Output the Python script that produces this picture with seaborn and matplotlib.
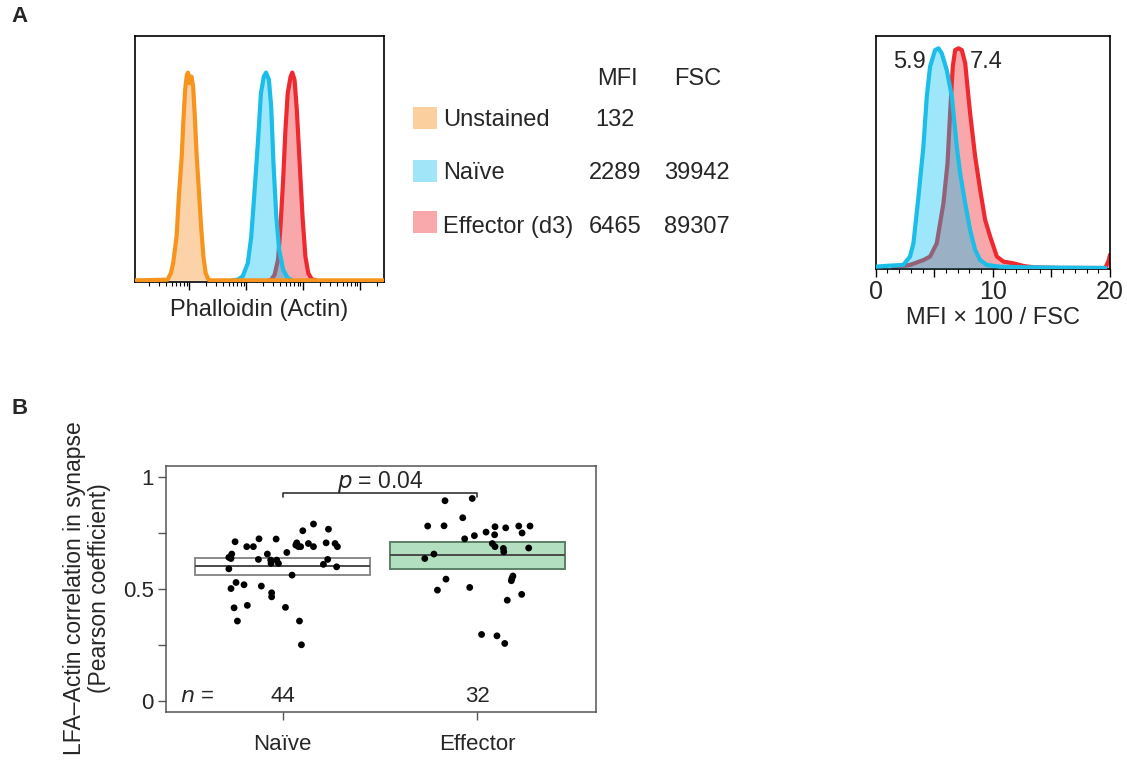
import numpy as np
import pandas as pd
import seaborn as sns
import matplotlib.pyplot as plt
from matplotlib.patches import Rectangle
from matplotlib.ticker import LogLocator, NullFormatter, MultipleLocator

sns.set_style("white")
plt.rcParams["font.family"] = ["Liberation Sans", "DejaVu Sans"]

# Panel A left: phalloidin histograms (log10 intensity, counts normalised to peak)
unst_log = [1.05, 1.62, 1.68, 1.72, 1.78, 1.82, 1.87, 1.90, 1.93, 1.96, 1.98, 2.01,
            2.04, 2.07, 2.10, 2.13, 2.17, 2.21, 2.25, 2.29, 2.34, 2.38, 5.42]
unst_cnt = [0, 0.003, 0.035, 0.083, 0.212, 0.404, 0.596, 0.772, 0.917, 0.989, 1.0, 0.949,
            0.981, 0.933, 0.788, 0.612, 0.436, 0.26, 0.115, 0.035, 0.003, 0, 0]
naive_log = [2.75, 2.85, 2.94, 3.03, 3.09, 3.15, 3.21, 3.26, 3.31, 3.35, 3.40, 3.44,
             3.48, 3.53, 3.58, 3.65, 3.73, 3.82]
naive_cnt = [0, 0.003, 0.019, 0.083, 0.21, 0.436, 0.676, 0.9, 0.98, 1.0, 0.965, 0.837,
             0.564, 0.308, 0.147, 0.051, 0.011, 0]
eff_log = [3.40, 3.44, 3.50, 3.56, 3.60, 3.65, 3.69, 3.73, 3.78, 3.81, 3.85, 3.89,
           3.94, 3.99, 4.04, 4.09, 4.15, 4.23]
eff_cnt = [0, 0.003, 0.027, 0.099, 0.244, 0.484, 0.724, 0.9, 0.98, 1.0, 0.965, 0.82,
           0.564, 0.308, 0.115, 0.035, 0.006, 0]

# legend table
table_labels = ["Unstained", "Naïve", "Effector (d3)"]
table_mfi = ["132", "2289", "6465"]
table_fsc = ["", "39942", "89307"]

# Panel A right: MFI x 100 / FSC histograms
ratio_naive_x = [0, 1.0, 2.36, 2.93, 3.22, 3.65, 4.07, 4.36, 4.64, 5.07, 5.36, 5.64,
                 6.07, 6.50, 6.92, 7.21, 7.64, 8.06, 8.49, 8.92, 9.49, 10.6, 12.9, 19.6]
ratio_naive_y = [0.006, 0.01, 0.014, 0.052, 0.112, 0.325, 0.552, 0.78, 0.917, 0.992, 1.0, 0.977,
                 0.90, 0.78, 0.552, 0.431, 0.294, 0.173, 0.082, 0.036, 0.014, 0.006, 0.003, 0.0]
ratio_eff_x = [1.51, 2.93, 4.07, 4.64, 5.21, 5.78, 6.13, 6.35, 6.58, 6.78, 7.07, 7.35,
               7.64, 7.83, 8.06, 8.49, 8.92, 9.34, 9.77, 10.06, 10.34, 10.91, 11.77, 12.62,
               13.48, 15.75, 19.6, 19.9, 20.0]
ratio_eff_y = [0.003, 0.014, 0.036, 0.052, 0.112, 0.294, 0.476, 0.704, 0.917, 0.992, 1.0, 0.992,
               0.932, 0.826, 0.704, 0.507, 0.355, 0.219, 0.143, 0.097, 0.052, 0.029, 0.021, 0.009,
               0.003, 0.0, 0.0, 0.036, 0.06]
ratio_medians = ["5.9", "7.4"]

# Panel B: Pearson coefficients (value, horizontal jitter)
naive_vals = [0.710, 0.640, 0.655, 0.635, 0.589, 0.528, 0.501, 0.415, 0.356, 0.518, 0.688,
              0.688, 0.426, 0.723, 0.631, 0.512, 0.655, 0.628, 0.613, 0.628, 0.613, 0.482,
              0.464, 0.722, 0.417, 0.662, 0.561, 0.695, 0.705, 0.688, 0.688, 0.759, 0.356,
              0.250, 0.702, 0.688, 0.789, 0.705, 0.766, 0.631, 0.609, 0.702, 0.688, 0.598]
naive_jit = [-0.245, -0.277, -0.262, -0.266, -0.277, -0.240, -0.266, -0.250, -0.233, -0.199,
             -0.185, -0.151, -0.182, -0.122, -0.125, -0.110, -0.079, -0.062, -0.060, -0.031,
             -0.022, -0.057, -0.057, -0.034, 0.014, 0.021, 0.048, 0.067, 0.072, 0.081, 0.092,
             0.103, 0.086, 0.096, 0.132, 0.158, 0.158, 0.223, 0.235, 0.231, 0.209, 0.269,
             0.281, 0.277]
eff_vals = [0.893, 0.903, 0.780, 0.781, 0.817, 0.723, 0.737, 0.753, 0.777, 0.741, 0.772,
            0.780, 0.780, 0.749, 0.702, 0.688, 0.680, 0.665, 0.682, 0.635, 0.655, 0.543,
            0.494, 0.506, 0.557, 0.546, 0.536, 0.449, 0.475, 0.296, 0.290, 0.256]
eff_jit = [-0.166, -0.026, -0.255, -0.171, -0.075, -0.065, -0.015, 0.045, 0.091, 0.089,
           0.146, 0.213, 0.271, 0.230, 0.077, 0.091, 0.134, 0.136, 0.264, -0.270, -0.223,
           -0.161, -0.205, -0.039, 0.183, 0.178, 0.175, 0.154, 0.228, 0.022, 0.101, 0.141]
groups = ["Naïve", "Effector"]
group_n = ["44", "32"]
box_low = [0.561, 0.587]
box_mid = [0.601, 0.650]
box_high = [0.638, 0.707]
p_text = "0.04"

W, H = 1127, 765
fig = plt.figure(figsize=(W / 100, H / 100), dpi=100)


def fx(px):
    return px / W


def fy(py):
    return 1 - py / H


RED, BLUE, ORANGE = "#ee2a30", "#1bbde9", "#f7941d"
LW = 3.0

# ---------------- Panel A left
ax1 = fig.add_axes([fx(135), fy(282), fx(249), 246 / H])
ax1.fill_between(10 ** np.array(eff_log), eff_cnt, color="#ed1c24", alpha=0.38, lw=0, zorder=1)
sns.lineplot(x=10 ** np.array(eff_log), y=eff_cnt, color=RED, lw=LW, estimator=None, ax=ax1, zorder=2)
ax1.fill_between(10 ** np.array(naive_log), naive_cnt, color="#00bff0", alpha=0.38, lw=0, zorder=3)
sns.lineplot(x=10 ** np.array(naive_log), y=naive_cnt, color=BLUE, lw=LW, estimator=None, ax=ax1, zorder=4)
ax1.fill_between(10 ** np.array(unst_log), unst_cnt, color="#fcd3a8", lw=0, zorder=5)
sns.lineplot(x=10 ** np.array(unst_log), y=unst_cnt, color=ORANGE, lw=LW, estimator=None, ax=ax1, zorder=6)
ax1.set_xscale("log")
ax1.set_xlim(10 ** 1.05, 10 ** 5.42)
ax1.set_ylim(-0.008, 1.176)
ax1.set_yticks([])
ax1.xaxis.set_major_locator(LogLocator(base=10, numticks=10))
ax1.xaxis.set_minor_locator(LogLocator(base=10, subs=np.arange(2, 10), numticks=20))
ax1.xaxis.set_major_formatter(NullFormatter())
ax1.xaxis.set_minor_formatter(NullFormatter())
ax1.tick_params(axis="x", which="major", direction="out", length=6, width=1, color="black", bottom=True)
ax1.tick_params(axis="x", which="minor", direction="out", length=3, width=0.8, color="black", bottom=True)
for s in ax1.spines.values():
    s.set_color("black")
    s.set_linewidth(1.2)
ax1.set_xlabel("Phalloidin (Actin)", fontsize=17, labelpad=3)
ax1.set_ylabel("")

# ---------------- legend table
fill_cols = ["#fccf9f", "#a0e5f8", "#f9a8ac"]
fig.text(fx(617), fy(85), "MFI", fontsize=17, ha="center", va="baseline")
fig.text(fx(698), fy(85), "FSC", fontsize=17, ha="center", va="baseline")
row_base = [125.7, 179.3, 232.7]
row_top = [106.7, 160.0, 210.7]
for lab, mfi, fsc, col, yb, yt in zip(table_labels, table_mfi, table_fsc, fill_cols, row_base, row_top):
    fig.add_artist(Rectangle((fx(413), fy(yt + 22)), fx(24), 22 / H, transform=fig.transFigure,
                             facecolor=col, edgecolor="none"))
    fig.text(fx(443), fy(yb), lab, fontsize=17, ha="left", va="baseline")
    fig.text(fx(615), fy(yb), mfi, fontsize=17, ha="center", va="baseline")
    fig.text(fx(697), fy(yb), fsc, fontsize=17, ha="center", va="baseline")

# ---------------- Panel A right
ax2 = fig.add_axes([fx(875.7), fy(269.3), fx(234.3), 233.3 / H])
ax2.fill_between(ratio_eff_x, ratio_eff_y, color="#ed1c24", alpha=0.38, lw=0, zorder=1)
sns.lineplot(x=ratio_eff_x, y=ratio_eff_y, color=RED, lw=LW, estimator=None, ax=ax2, zorder=2)
ax2.fill_between(ratio_naive_x, ratio_naive_y, color="#00bff0", alpha=0.38, lw=0, zorder=3)
sns.lineplot(x=ratio_naive_x, y=ratio_naive_y, color=BLUE, lw=LW, estimator=None, ax=ax2, zorder=4)
ax2.set_xlim(0, 20)
ax2.set_ylim(-0.006, 1.056)
ax2.set_yticks([])
ax2.set_xticks([0, 5, 10, 15, 20])
ax2.set_xticklabels(["0", "", "10", "", "20"], fontsize=18)
ax2.xaxis.set_minor_locator(MultipleLocator(1))
ax2.tick_params(axis="x", which="major", direction="out", length=6, width=1, color="black", bottom=True, pad=2)
ax2.tick_params(axis="x", which="minor", direction="out", length=3, width=0.8, color="black", bottom=True)
for s in ax2.spines.values():
    s.set_color("black")
    s.set_linewidth(1.2)
ax2.set_xlabel("MFI × 100 / FSC", fontsize=17, labelpad=2)
ax2.set_ylabel("")
ax2.text(4.3, 0.936, ratio_medians[0], fontsize=17, ha="right", va="center")
ax2.text(8.05, 0.936, ratio_medians[1], fontsize=17, ha="left", va="center")

# ---------------- Panel B
dfB = pd.DataFrame({
    "group": ["Naïve"] * len(naive_vals) + ["Effector"] * len(eff_vals),
    "value": naive_vals + eff_vals,
    "jit": naive_jit + eff_jit,
})
dfB["xpos"] = dfB["group"].map({g: i for i, g in enumerate(groups)}) + dfB["jit"]

axB = fig.add_axes([fx(166), fy(712), fx(430), 246 / H])
box_fill = ["white", "#b3dfc1"]
box_edge = ["#8a8a8a", "#5d7f66"]
for i in range(len(groups)):
    axB.bar(i, box_high[i] - box_low[i], bottom=box_low[i], width=0.9,
            color=box_fill[i], edgecolor=box_edge[i], lw=1.4, zorder=1)
    axB.hlines(box_mid[i], i - 0.45, i + 0.45, color="#4a4a4a", lw=1.4, zorder=2)
sns.scatterplot(data=dfB, x="xpos", y="value", color="black", s=24, edgecolor="none",
                ax=axB, zorder=3, legend=False)
axB.set_xlim(-0.6, 1.61)
axB.set_ylim(-0.05, 1.048)
axB.set_xticks(range(len(groups)))
axB.set_xticklabels(groups, fontsize=16)
axB.set_yticks([0, 0.25, 0.5, 0.75, 1])
axB.set_yticklabels(["0", "", "0.5", "", "1"], fontsize=16)
axB.tick_params(axis="both", direction="out", length=6, width=1, color="#555555", left=True, bottom=True)
axB.tick_params(axis="x", pad=10)
axB.tick_params(axis="y", pad=3)
for s in axB.spines.values():
    s.set_color("#555555")
    s.set_linewidth(1.1)
axB.set_xlabel("")
axB.set_ylabel("")
axB.plot([0, 0, 1, 1], [0.911, 0.926, 0.926, 0.911], color="#333333", lw=1.2)
axB.text(0.5, 0.975, r"$\it{p}$ = " + p_text, fontsize=16.5, ha="center", va="center")
axB.text(-0.53, 0.02, r"$\it{n}$ =", fontsize=16, ha="left", va="center")
for i, n in enumerate(group_n):
    axB.text(i, 0.02, n, fontsize=16, ha="center", va="center")
fig.text(fx(87), fy(588), "LFA–Actin correlation in synapse\n(Pearson coefficient)",
         fontsize=16.5, rotation=90, ha="center", va="center", multialignment="center",
         linespacing=1.1)

# panel letters
fig.text(fx(20), fy(17), "A", fontsize=16, fontweight="bold", ha="center", va="center")
fig.text(fx(20), fy(408), "B", fontsize=16, fontweight="bold", ha="center", va="center")

fig.savefig("out.png", dpi=100)
